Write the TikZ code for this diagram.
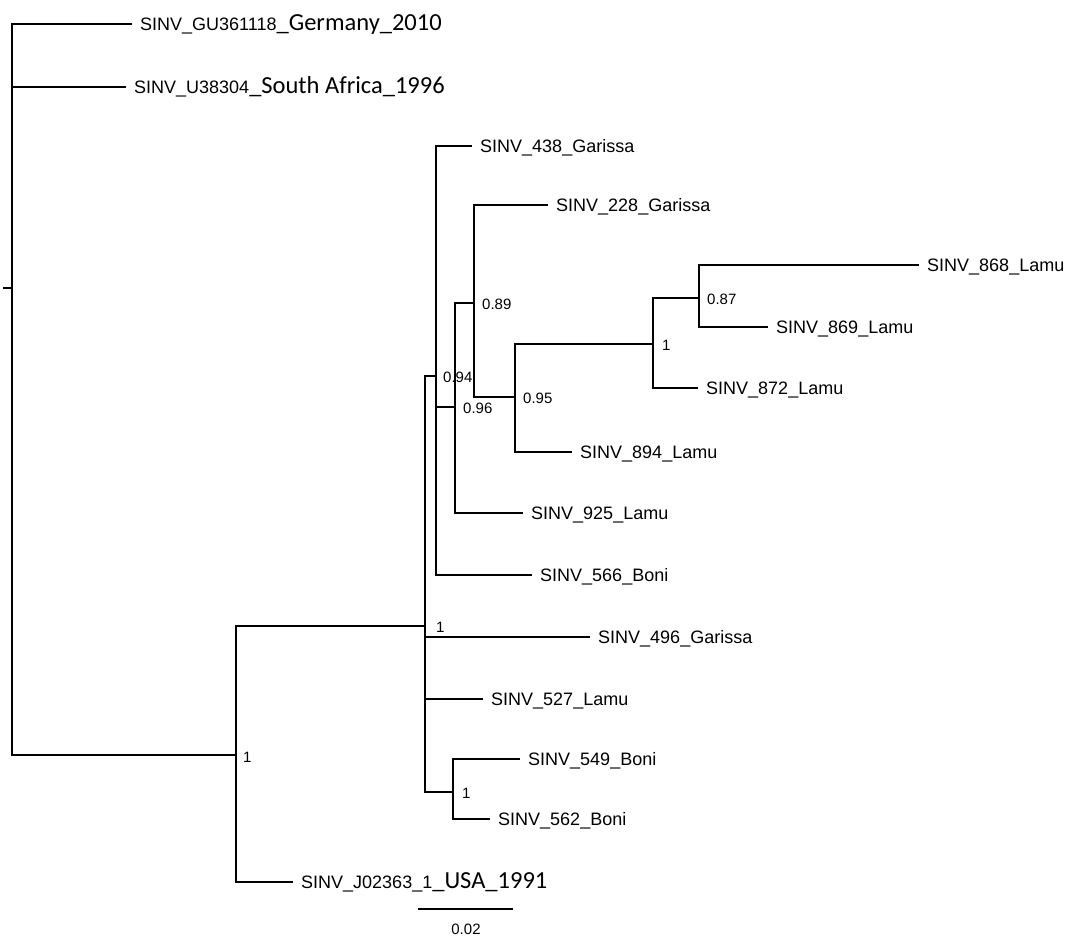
\documentclass[tikz,border=0pt]{standalone}
\usepackage{fontspec}
\setmainfont{Liberation Sans}
\newfontfamily\calfont{Carlito}
\newcommand{\placename}[1]{{\calfont\fontsize{24.5}{26}\selectfont #1}}

\begin{document}
\begin{tikzpicture}[
  x=1pt, y=-1pt,
  every node/.style={font=\fontsize{18}{20}\selectfont},
  branch/.style={line width=1.8pt},
  tip/.style={anchor=west, inner xsep=8pt, inner ysep=0pt, text height=13pt, text depth=0pt},
  support/.style={anchor=west, inner sep=0pt, text height=10.7pt, text depth=0pt, font=\fontsize{15}{17}\selectfont},
]
\useasboundingbox (0,0) rectangle (1068,940);

% Internal nodes
\coordinate (stub) at (3,288);
\coordinate (root) at (12,288);
\coordinate (n1) at (236,755);
\coordinate (n2) at (425,626);
\coordinate (n3) at (436,376);
\coordinate (n4) at (453,792);
\coordinate (n5) at (455,407);
\coordinate (n6) at (474,303);
\coordinate (n7) at (515,397);
\coordinate (n8) at (653,344);
\coordinate (n9) at (699,298);

% Tips
\node[tip] (germ) at (132,24) {SINV\_GU361118\placename{\_Germany\_2010}};
\node[tip] (safr) at (126,87) {SINV\_U38304\placename{\_South Africa\_1996}};
\node[tip] (t438) at (472,146) {SINV\_438\_Garissa};
\node[tip] (t228) at (548,205) {SINV\_228\_Garissa};
\node[tip] (t868) at (919,265) {SINV\_868\_Lamu};
\node[tip] (t869) at (768,327) {SINV\_869\_Lamu};
\node[tip] (t872) at (698,388) {SINV\_872\_Lamu};
\node[tip] (t894) at (572,452) {SINV\_894\_Lamu};
\node[tip] (t925) at (523,513) {SINV\_925\_Lamu};
\node[tip] (t566) at (532,575) {SINV\_566\_Boni};
\node[tip] (t496) at (590,637) {SINV\_496\_Garissa};
\node[tip] (t527) at (483,699) {SINV\_527\_Lamu};
\node[tip] (t549) at (520,759) {SINV\_549\_Boni};
\node[tip] (t562) at (490,819) {SINV\_562\_Boni};
\node[tip] (tusa) at (293,882) {SINV\_J02363\_1\placename{\_USA\_1991}};

% Branches
\draw[branch] (stub) -- (root);
\draw[branch] (root) |- (germ.west);
\draw[branch] (root) |- (safr.west);
\draw[branch] (root) |- (n1);
\draw[branch] (n1) |- (n2);
\draw[branch] (n1) |- (tusa.west);
\draw[branch] (n2) |- (n3);
\draw[branch] (n2) |- (t496.west);
\draw[branch] (n2) |- (t527.west);
\draw[branch] (n2) |- (n4);
\draw[branch] (n3) |- (t438.west);
\draw[branch] (n3) |- (n5);
\draw[branch] (n3) |- (t566.west);
\draw[branch] (n5) |- (n6);
\draw[branch] (n5) |- (t925.west);
\draw[branch] (n6) |- (t228.west);
\draw[branch] (n6) |- (n7);
\draw[branch] (n7) |- (n8);
\draw[branch] (n7) |- (t894.west);
\draw[branch] (n8) |- (n9);
\draw[branch] (n8) |- (t872.west);
\draw[branch] (n9) |- (t868.west);
\draw[branch] (n9) |- (t869.west);
\draw[branch] (n4) |- (t549.west);
\draw[branch] (n4) |- (t562.west);

% Support values
\node[support] (s1) at (243,757) {1};
\node[support] (s2) at (436,627) {1};
\node[support] (s3) at (443,377) {0.94};
\node[support] (s4) at (462,793) {1};
\node[support] (s5) at (463,408) {0.96};
\node[support] (s6) at (482,304) {0.89};
\node[support] (s7) at (523,398) {0.95};
\node[support] (s8) at (662,345) {1};
\node[support] (s9) at (707,299) {0.87};

% Scale bar
\coordinate (sbl) at (418,909);
\coordinate (sbr) at (513,909);
\draw[branch] (sbl) -- (sbr);
\node[support, anchor=center] (scale) at (466,929) {0.02};

\end{tikzpicture}
\end{document}
